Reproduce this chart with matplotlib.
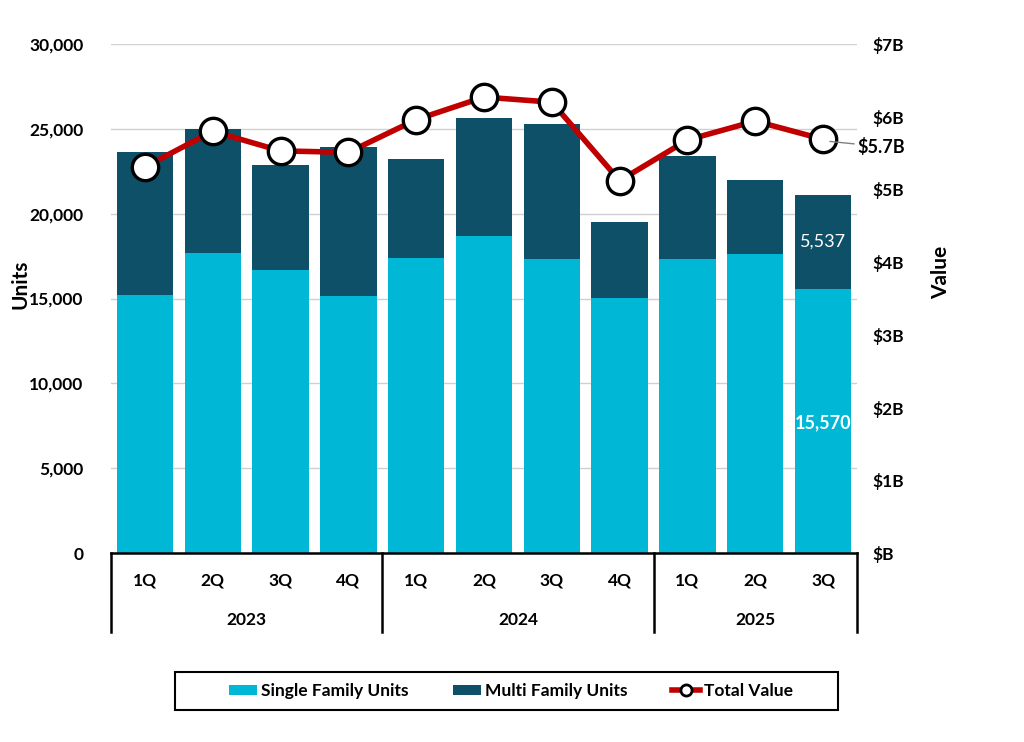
import matplotlib
matplotlib.use("Agg")
import matplotlib.pyplot as plt
import matplotlib.transforms as mtransforms
from matplotlib.lines import Line2D
from matplotlib.patches import Patch, Rectangle
import numpy as np

plt.rcParams['font.family'] = ['Lato', 'DejaVu Sans']

quarters = ["1Q", "2Q", "3Q", "4Q", "1Q", "2Q", "3Q", "4Q", "1Q", "2Q", "3Q"]
years = ["2023", "2024", "2025"]
year_counts = [4, 4, 3]
single_family = [15200, 17700, 16700, 15150, 17400, 18680, 17320, 15030, 17320, 17630, 15570]
multi_family = [8450, 7300, 6170, 8780, 5830, 6950, 7970, 4470, 6080, 4370, 5537]
total_value = [5.31, 5.80, 5.53, 5.51, 5.96, 6.27, 6.20, 5.12, 5.68, 5.94, 5.69]

c_single = "#00B8D6"
c_multi = "#0E5068"
c_line = "#C00000"

fig = plt.figure(figsize=(10.24, 7.42), dpi=100)
ax = fig.add_axes([0.1084, 0.2547, 0.7285, 0.686])
ax2 = ax.twinx()

x = np.arange(len(quarters))
w = 0.83
ax.bar(x, single_family, width=w, color=c_single, zorder=2)
ax.bar(x, multi_family, width=w, bottom=single_family, color=c_multi, zorder=2)

ax.set_xlim(-0.5, len(quarters) - 0.5)
ax.set_ylim(0, 30000)
ax.set_yticks(np.arange(0, 30001, 5000))
ax.set_yticklabels([f"{v:,}" for v in range(0, 30001, 5000)], fontsize=12.5, fontweight='bold')
ax.yaxis.grid(True, color="#D0D0D0", linewidth=1, zorder=0)
ax.set_axisbelow(True)
ax.tick_params(axis='y', length=0, pad=20)
ax.tick_params(axis='x', length=0, pad=14)
ax.set_xticks(x)
ax.set_xticklabels(quarters, fontsize=12.5, fontweight='bold')
for s in ["top", "right", "left"]:
    ax.spines[s].set_visible(False)
ax.spines["bottom"].set_linewidth(1.8)
ax.spines["bottom"].set_color("black")
ax.set_ylabel("Units", fontsize=15, fontweight='bold')
ax.yaxis.set_label_coords(-0.108, 0.527)

# year labels and separators
trans = mtransforms.blended_transform_factory(ax.transData, ax.transAxes)
start = 0
bounds = [-0.5]
for yr, n in zip(years, year_counts):
    center = start + (n - 1) / 2
    ax.text(center, -0.132, yr, transform=trans, ha='center', va='center',
            fontsize=12.5, fontweight='bold')
    start += n
    bounds.append(start - 0.5)
for b in bounds:
    ax.plot([b, b], [0, -0.155], transform=trans, color='black', linewidth=1.8,
            clip_on=False)

# line on right axis
ax2.plot(x, total_value, color=c_line, linewidth=4, marker='o', markersize=19,
         markerfacecolor='white', markeredgecolor='black', markeredgewidth=2.4, zorder=5)
ax2.set_ylim(0, 7)
ax2.set_yticks(range(0, 8))
ax2.set_yticklabels(["$B"] + [f"${i}B" for i in range(1, 8)], fontsize=12.5, fontweight='bold')
ax2.tick_params(axis='y', length=0, pad=11)
for s in ["top", "right", "left", "bottom"]:
    ax2.spines[s].set_visible(False)
ax2.set_ylabel("Value", fontsize=15, fontweight='bold')
ax2.yaxis.set_label_coords(1.100, 0.552)

# data labels
ax.text(x[-1], single_family[-1] + multi_family[-1] / 2, f"{multi_family[-1]:,}",
        ha='center', va='center', color='white', fontsize=13)
ax.text(x[-1], 7700, f"{single_family[-1]:,}", ha='center', va='center',
        color='white', fontsize=13, fontweight='bold')
ax2.annotate(f"${total_value[-1]:.1f}B", xy=(x[-1] + 0.1, total_value[-1] - 0.03),
             xytext=(x[-1] + 0.5, total_value[-1] - 0.1), ha='left', va='center',
             fontsize=13, fontweight='bold',
             arrowprops=dict(arrowstyle='-', color='#808080', lw=1, shrinkA=0, shrinkB=0),
             annotation_clip=False, zorder=6)

# legend box
fig.patches.append(Rectangle((175 / 1024, 1 - 710 / 742), 663 / 1024, 38 / 742,
                             transform=fig.transFigure, fill=False, edgecolor='black',
                             linewidth=1.5))
handles = [Patch(facecolor=c_single, label="Single Family Units"),
           Patch(facecolor=c_multi, label="Multi Family Units"),
           Line2D([0], [0], color=c_line, linewidth=4, marker='o', markersize=8,
                  markerfacecolor='white', markeredgecolor='black', markeredgewidth=2,
                  label="Total Value")]
leg = fig.legend(handles=handles, loc='center', bbox_to_anchor=(511 / 1024, 1 - 691 / 742),
                 ncol=3, frameon=False, prop={'size': 12.5, 'weight': 'bold'},
                 handlelength=1.6, handleheight=0.5, handletextpad=0.2,
                 columnspacing=2.6)

fig.savefig("out.png", dpi=100)
